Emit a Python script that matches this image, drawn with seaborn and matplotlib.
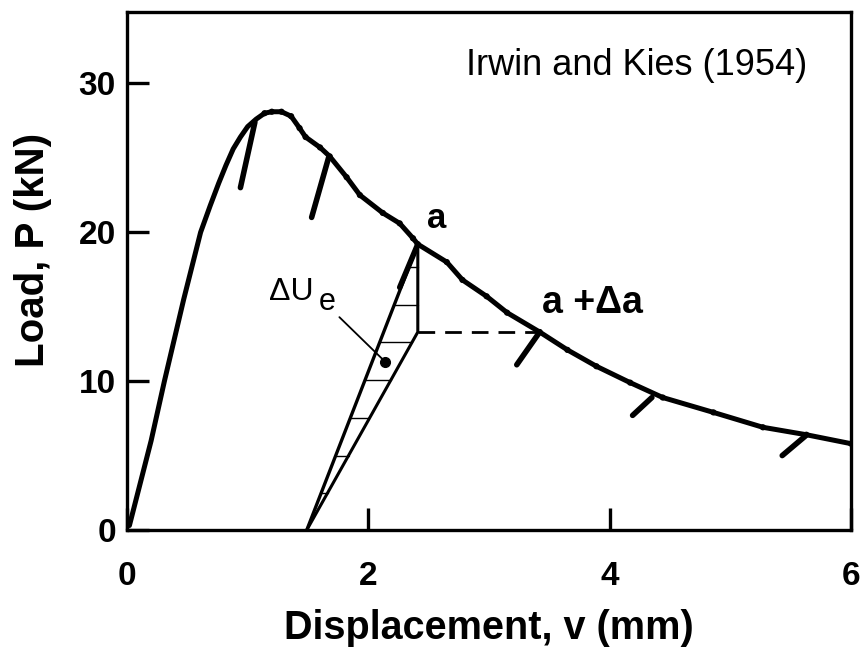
import numpy as np
import pandas as pd
import matplotlib
matplotlib.use("Agg")
import matplotlib.pyplot as plt
import seaborn as sns

# ---------------- data ----------------
curve_v = [0.02, 0.20, 0.31, 0.47, 0.61, 0.69, 0.76, 0.82, 0.88, 0.94, 1.00,
           1.07, 1.14, 1.20, 1.28, 1.36, 1.43, 1.48, 1.60, 1.68, 1.82, 1.93,
           2.12, 2.26, 2.37, 2.41, 2.65, 2.78, 2.98, 3.15, 3.42, 3.65, 3.89,
           4.17, 4.44, 4.86, 5.27, 5.63, 6.00]
curve_p = [0.3, 6.0, 10.0, 15.5, 20.0, 21.8, 23.3, 24.5, 25.6, 26.4, 27.1,
           27.6, 28.0, 28.1, 28.1, 27.8, 27.0, 26.4, 25.7, 25.1, 23.7, 22.5,
           21.3, 20.6, 19.6, 19.2, 18.0, 16.8, 15.7, 14.6, 13.3, 12.1, 11.0,
           9.9, 8.9, 7.9, 6.9, 6.4, 5.8]

# partial unloading segments (start on curve -> end)
unload_v0 = [1.06, 1.67, 2.41, 3.42, 4.35, 5.62]
unload_p0 = [27.4, 25.0, 19.2, 13.3, 8.9, 6.3]
unload_v1 = [0.94, 1.53, 2.26, 3.23, 4.19, 5.43]
unload_p1 = [23.0, 21.0, 16.3, 11.1, 7.7, 5.0]

# energy-release triangle
a_v, a_p = 2.41, 19.2          # point a
b_v, b_p = 3.42, 13.3          # point a + da
tri_v0 = 1.49                  # intersection with P = 0
hatch_levels = [2.5, 5.0, 7.5, 10.1, 12.6, 15.1, 17.7]

# leader for Delta U_e
leader_v = [1.76, 2.14]
leader_p = [14.3, 11.3]

# ---------------- figure ----------------
sns.set_theme(style="white")
plt.rcParams["font.family"] = ["Liberation Sans", "DejaVu Sans"]
plt.rcParams["text.color"] = "black"
plt.rcParams["axes.labelcolor"] = "black"

fig = plt.figure(figsize=(8.65, 6.57), dpi=100)
ax = fig.add_axes([127 / 865, 1 - 530 / 657, 724 / 865, 518 / 657])

df = pd.DataFrame({"v": curve_v, "P": curve_p})
sns.lineplot(data=df, x="v", y="P", sort=False, estimator=None, color="black",
             lw=3.6, ax=ax, solid_capstyle="round", solid_joinstyle="round")
post = df[df["v"] > 1.1]
sns.scatterplot(data=post, x="v", y="P", color="black", s=20, edgecolor="none",
                ax=ax, zorder=3)

for v0, p0, v1, p1 in zip(unload_v0, unload_p0, unload_v1, unload_p1):
    ax.plot([v0, v1], [p0, p1], color="black", lw=4.0, solid_capstyle="round")

# triangle
ax.plot([tri_v0, a_v], [0, a_p], color="black", lw=2.4)
ax.plot([tri_v0, a_v, a_v], [0, b_p, a_p], color="black", lw=2.2)
ax.plot([a_v, b_v], [b_p, b_p], color="black", lw=2.0, ls=(0, (6, 3.6)))
for h in hatch_levels:
    xl = np.interp(h, [0, a_p], [tri_v0, a_v])
    xr = np.interp(h, [0, b_p, a_p], [tri_v0, a_v, a_v])
    ax.plot([xl, xr], [h, h], color="black", lw=1.0)

# leader and dot
ax.plot(leader_v, leader_p, color="black", lw=1.3)
ax.plot(leader_v[1], leader_p[1], "o", color="black", ms=7)

# texts
ax.text(1.18, 15.47, "\u0394U", fontsize=23, ha="left", va="baseline")
ax.text(1.585, 14.75, "e", fontsize=22, ha="left", va="baseline")
ax.text(2.485, 20.3, "a", fontsize=25, fontweight="bold", ha="left", va="baseline")
ax.text(3.44, 14.6, "a +\u0394a", fontsize=27, fontweight="bold", ha="left", va="baseline")
ax.text(4.22, 30.6, "Irwin and Kies (1954)", fontsize=26, ha="center", va="baseline")

# axes styling
ax.set_xlim(0, 6)
ax.set_ylim(0, 34.8)
ax.set_xticks([0, 2, 4, 6])
ax.set_yticks([0, 10, 20, 30])
for s in ax.spines.values():
    s.set_visible(True)
    s.set_color("black")
    s.set_linewidth(2.4)
ax.tick_params(direction="in", length=16, width=2.4, color="black",
               bottom=True, left=True, top=False, right=False, labelsize=24,
               labelcolor="black")
ax.tick_params(axis="x", pad=22)
ax.tick_params(axis="y", pad=8)
for lbl in ax.get_xticklabels() + ax.get_yticklabels():
    lbl.set_fontweight("bold")

ax.set_xlabel("Displacement, v (mm)", fontsize=28.5, fontweight="bold", color="black")
ax.set_ylabel("Load, P (kN)", fontsize=29, fontweight="bold", color="black")
ax.xaxis.set_label_coords(0.5, -0.189)
ax.xaxis.label.set_va("center")
ax.yaxis.set_label_coords(-0.130, 0.541)
ax.yaxis.label.set_va("center")

fig.savefig("out.png", dpi=100, facecolor="white")
